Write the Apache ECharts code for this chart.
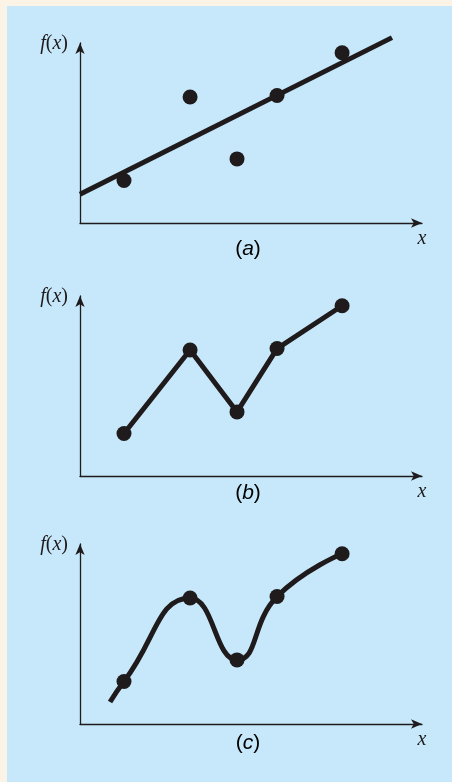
<!DOCTYPE html>
<html>
<head>
<meta charset="utf-8">
<script src="https://cdn.jsdelivr.net/npm/echarts@6/dist/echarts.min.js"></script>
<style>
  html, body { margin: 0; padding: 0; background: #fbf3e5; }
  #chart { width: 452px; height: 782px; }
</style>
</head>
<body>
<div id="chart"></div>
<script>
// Five sample points, shared by all three panels
const xData = [1.275, 3.19, 4.55, 5.71, 7.595];
const yData = [1.18, 3.5, 1.78, 3.54, 4.73];

// Panel captions
const panelTags = ['a', 'b', 'c'];

// Extent of the fitted straight line along x (panel a)
const fitRange = [0, 9.04];

// Start of the smooth curve's lead-in before the first sample (panel c)
const curveLead = [0.87, 0.61];

// Axis extents
const xRange = [0, 9.91];
const yRange = [0, 5];

const ink = '#1f1b1c';
const points = xData.map((x, i) => [x, yData[i]]);

// Least-squares straight line through the samples
function leastSquares(xs, ys) {
  const n = xs.length;
  const mx = xs.reduce((a, b) => a + b, 0) / n;
  const my = ys.reduce((a, b) => a + b, 0) / n;
  let sxy = 0, sxx = 0;
  for (let i = 0; i < n; i++) {
    sxy += (xs[i] - mx) * (ys[i] - my);
    sxx += (xs[i] - mx) * (xs[i] - mx);
  }
  const slope = sxy / sxx;
  return { slope, intercept: my - slope * mx };
}
const fit = leastSquares(xData, yData);
const fitLine = fitRange.map(x => [x, fit.intercept + fit.slope * x]);

// Panel layout (pixels)
const gridLeft = 80, gridWidth = 342, gridHeight = 180;
const gridTops = [43, 296, 544];
const captionY = [249, 493, 743];

const serif = '"Liberation Serif", "DejaVu Serif", serif';
const sans = '"Liberation Sans", Arimo, sans-serif';

const axisLineStyle = {
  show: true,
  symbol: ['none', 'arrow'],
  symbolSize: [7, 11],
  lineStyle: { color: ink, width: 1.3 }
};

const grids = gridTops.map(t => ({ left: gridLeft, top: t, width: gridWidth, height: gridHeight }));

const xAxes = gridTops.map((t, i) => ({
  type: 'value', gridIndex: i, min: xRange[0], max: xRange[1],
  axisLine: axisLineStyle, axisTick: { show: false },
  axisLabel: { show: false }, splitLine: { show: false }
}));

const yAxes = gridTops.map((t, i) => ({
  type: 'value', gridIndex: i, min: yRange[0], max: yRange[1],
  axisLine: axisLineStyle, axisTick: { show: false },
  axisLabel: { show: false }, splitLine: { show: false },
  name: '{i|f}{n|(}{i|x}{n|)}', nameLocation: 'end', nameGap: -1,
  nameTextStyle: {
    align: 'right', verticalAlign: 'middle', padding: [0, 12, 0, 0],
    rich: {
      i: { fontFamily: serif, fontStyle: 'italic', fontSize: 20, color: ink },
      n: { fontFamily: serif, fontSize: 20, color: ink }
    }
  }
}));

const dotSeries = i => ({
  type: 'scatter', xAxisIndex: i, yAxisIndex: i, data: points,
  symbol: 'circle', symbolSize: 15,
  itemStyle: { color: ink, opacity: 1 }, z: 5, silent: true
});

const series = [
  // (a) least-squares straight line
  {
    type: 'line', xAxisIndex: 0, yAxisIndex: 0, data: fitLine,
    showSymbol: false, clip: false, silent: true,
    lineStyle: { color: ink, width: 5, cap: 'butt' }
  },
  dotSeries(0),
  // (b) straight segments joining the samples
  {
    type: 'line', xAxisIndex: 1, yAxisIndex: 1, data: points,
    showSymbol: false, silent: true,
    lineStyle: { color: ink, width: 5, join: 'round' }
  },
  dotSeries(1),
  // (c) smooth curve through the samples
  {
    type: 'line', xAxisIndex: 2, yAxisIndex: 2, data: [curveLead].concat(points),
    smooth: 0.5, showSymbol: false, silent: true,
    lineStyle: { color: ink, width: 5, cap: 'butt' }
  },
  dotSeries(2)
];

// Captions "(a)", "(b)", "(c)" and the x-axis letter under each arrow
const labels = [];
panelTags.forEach((tag, i) => {
  labels.push({
    type: 'text', silent: true, z: 10, x: 248, y: captionY[i],
    style: {
      text: '{p|(}{t|' + tag + '}{p|)}',
      align: 'center', verticalAlign: 'middle',
      rich: {
        p: { fontFamily: sans, fontSize: 21, color: ink },
        t: { fontFamily: sans, fontStyle: 'italic', fontSize: 21, color: ink }
      }
    }
  });
  labels.push({
    type: 'text', silent: true, z: 10,
    x: 422, y: gridTops[i] + gridHeight + 16,
    style: {
      text: 'x', align: 'center', verticalAlign: 'middle',
      fontFamily: serif, fontStyle: 'italic', fontSize: 20, fill: ink
    }
  });
});

const chart = echarts.init(document.getElementById('chart'), null, { renderer: 'canvas' });
chart.setOption({
  backgroundColor: '#fbf3e5',
  animation: false,
  graphic: [
    {
      type: 'rect', z: -10, silent: true,
      shape: { x: 7, y: 6, width: 445, height: 776 },
      style: { fill: '#c7e8fa' }
    }
  ].concat(labels),
  grid: grids,
  xAxis: xAxes,
  yAxis: yAxes,
  series: series
});
</script>
</body>
</html>
